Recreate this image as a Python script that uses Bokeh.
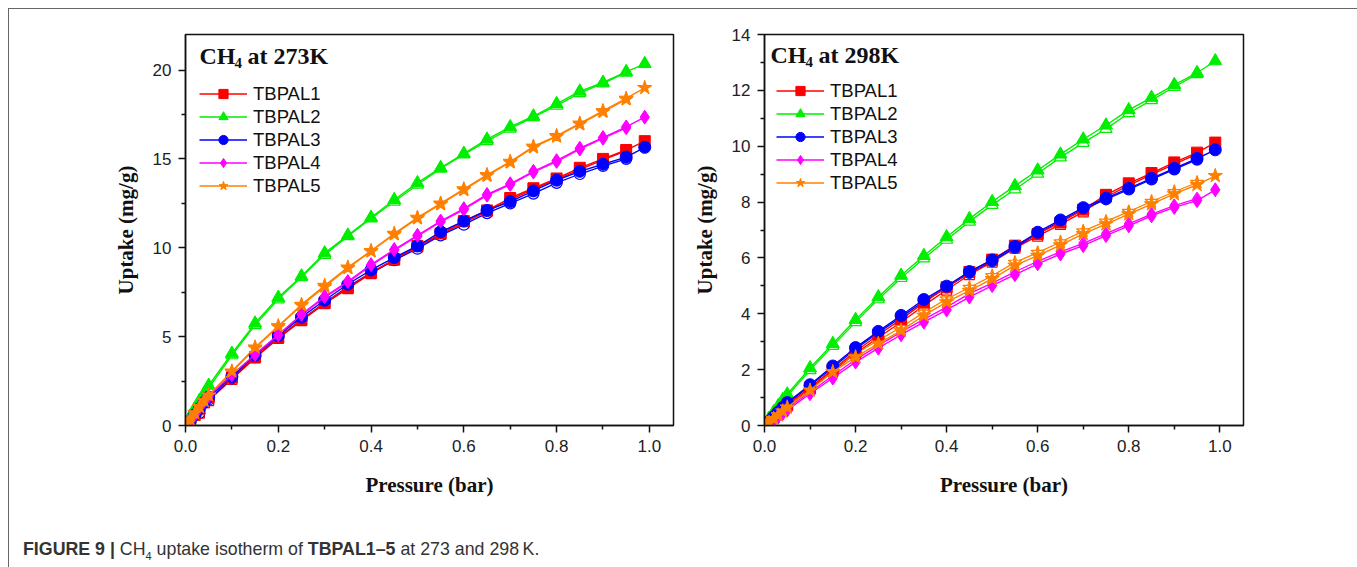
from bokeh.plotting import figure
from bokeh.models import Range1d, Legend, LegendItem, Label, Div, FixedTicker, NumeralTickFormatter
from bokeh.layouts import row, column
from bokeh.embed import file_html
from bokeh.resources import INLINE

# ---------------- data ----------------
pressure = [0.0, 0.005, 0.01, 0.02, 0.03, 0.04, 0.05,
            0.10, 0.15, 0.20, 0.25, 0.30, 0.35, 0.40, 0.45, 0.50,
            0.55, 0.60, 0.65, 0.70, 0.75, 0.80, 0.85, 0.90, 0.95, 0.99]
des_pressure = [0.01, 0.03, 0.05,
                0.10, 0.15, 0.20, 0.25, 0.30, 0.35, 0.40, 0.45, 0.50,
                0.55, 0.60, 0.65, 0.70, 0.75, 0.80, 0.85, 0.90, 0.95]

names = ["TBPAL1", "TBPAL2", "TBPAL3", "TBPAL4", "TBPAL5"]

# 273 K adsorption (filled)
ads_273_TBPAL1 = [0, 0.1, 0.25, 0.6, 0.95, 1.3, 1.6, 2.7, 3.85, 4.95, 5.95, 6.9, 7.75, 8.6, 9.35, 10.1,
                  10.8, 11.5, 12.1, 12.8, 13.35, 13.9, 14.5, 15.0, 15.5, 16.0]
ads_273_TBPAL2 = [0, 0.25, 0.5, 0.95, 1.4, 1.8, 2.25, 4.05, 5.75, 7.2, 8.4, 9.7, 10.7, 11.7, 12.7, 13.65,
                  14.5, 15.3, 16.1, 16.8, 17.4, 18.1, 18.8, 19.3, 19.9, 20.35]
ads_273_TBPAL3 = [0, 0.1, 0.25, 0.6, 0.95, 1.3, 1.6, 2.75, 3.95, 5.05, 6.1, 7.05, 7.95, 8.75, 9.45, 10.1,
                  10.9, 11.5, 12.1, 12.6, 13.2, 13.8, 14.3, 14.7, 15.1, 15.65]
ads_273_TBPAL4 = [0, 0.1, 0.25, 0.6, 1.0, 1.35, 1.65, 2.85, 4.0, 5.1, 6.25, 7.25, 8.1, 9.05, 9.9, 10.7,
                  11.5, 12.2, 13.0, 13.6, 14.3, 14.9, 15.6, 16.2, 16.8, 17.35]
ads_273_TBPAL5 = [0, 0.15, 0.35, 0.7, 1.05, 1.4, 1.7, 3.05, 4.4, 5.6, 6.8, 7.87, 8.9, 9.83, 10.8, 11.7,
                  12.5, 13.3, 14.1, 14.85, 15.7, 16.3, 17.0, 17.7, 18.4, 19.0]

# 273 K desorption (open)
des_273_TBPAL1 = [0.0, 0.7, 1.4, 2.6, 3.8, 4.9, 5.9, 6.85, 7.7, 8.55, 9.3, 10.05, 10.75, 11.4, 12.05,
                  12.7, 13.3, 13.85, 14.4, 14.95, 15.45]
des_273_TBPAL2 = [0.3, 1.2, 2.1, 3.95, 5.65, 7.1, 8.35, 9.6, 10.65, 11.65, 12.6, 13.55, 14.45, 15.25,
                  16.0, 16.7, 17.35, 18.0, 18.7, 19.25, 19.85]
des_273_TBPAL3 = [0.0, 0.7, 1.45, 2.65, 3.85, 4.95, 5.95, 6.9, 7.8, 8.6, 9.3, 9.95, 10.7, 11.3, 11.95,
                  12.5, 13.05, 13.65, 14.15, 14.6, 15.0]
des_273_TBPAL4 = [0.0, 0.75, 1.5, 2.8, 3.95, 5.05, 6.2, 7.2, 8.05, 9.0, 9.85, 10.65, 11.45, 12.15,
                  12.95, 13.55, 14.25, 14.85, 15.55, 16.15, 16.75]
des_273_TBPAL5 = [0.1, 0.9, 1.65, 3.0, 4.35, 5.55, 6.75, 7.8, 8.85, 9.8, 10.75, 11.65, 12.45, 13.25,
                  14.05, 14.8, 15.65, 16.25, 16.95, 17.65, 18.35]

# 298 K adsorption (filled)
ads_298_TBPAL1 = [0, 0.05, 0.12, 0.28, 0.43, 0.6, 0.75, 1.35, 2.0, 2.65, 3.25, 3.8, 4.4, 4.95, 5.5,
                  5.94, 6.44, 6.86, 7.27, 7.73, 8.26, 8.67, 9.04, 9.42, 9.77, 10.13]
ads_298_TBPAL2 = [0, 0.12, 0.25, 0.48, 0.7, 0.92, 1.12, 2.06, 2.93, 3.79, 4.6, 5.37, 6.08, 6.75, 7.4,
                  8.01, 8.58, 9.14, 9.71, 10.25, 10.75, 11.3, 11.74, 12.2, 12.63, 13.05]
ads_298_TBPAL3 = [0, 0.06, 0.14, 0.31, 0.48, 0.65, 0.82, 1.46, 2.13, 2.79, 3.37, 3.94, 4.51, 4.99, 5.51,
                  5.93, 6.41, 6.92, 7.36, 7.8, 8.14, 8.49, 8.85, 9.21, 9.56, 9.87]
ads_298_TBPAL4 = [0, 0.04, 0.09, 0.2, 0.32, 0.43, 0.55, 1.14, 1.7, 2.27, 2.77, 3.25, 3.7, 4.14, 4.6,
                  5.01, 5.4, 5.79, 6.14, 6.44, 6.8, 7.15, 7.51, 7.81, 8.05, 8.44]
ads_298_TBPAL5 = [0, 0.05, 0.1, 0.24, 0.37, 0.51, 0.65, 1.26, 1.92, 2.45, 2.93, 3.4, 3.94, 4.42, 4.83,
                  5.25, 5.73, 6.08, 6.46, 6.86, 7.21, 7.57, 7.93, 8.29, 8.62, 8.94]

# 298 K desorption (open)
des_298_TBPAL1 = [0.05, 0.4, 0.7, 1.3, 1.94, 2.58, 3.15, 3.7, 4.3, 4.85, 5.4, 5.85, 6.35, 6.78, 7.2,
                  7.65, 8.18, 8.6, 8.98, 9.36, 9.72]
des_298_TBPAL2 = [0.15, 0.6, 1.05, 1.98, 2.85, 3.7, 4.52, 5.28, 5.98, 6.65, 7.3, 7.9, 8.45, 9.02, 9.6,
                  10.12, 10.62, 11.18, 11.65, 12.12, 12.58]
des_298_TBPAL3 = [0.06, 0.45, 0.78, 1.42, 2.08, 2.74, 3.32, 3.88, 4.45, 4.94, 5.46, 5.88, 6.36, 6.87,
                  7.31, 7.75, 8.1, 8.45, 8.81, 9.17, 9.52]
des_298_TBPAL4 = [0.05, 0.35, 0.62, 1.2, 1.78, 2.36, 2.86, 3.35, 3.8, 4.24, 4.72, 5.1, 5.5, 5.88, 6.22,
                  6.52, 6.87, 7.22, 7.57, 7.87, 8.12]
des_298_TBPAL5 = [0.1, 0.45, 0.72, 1.35, 2.02, 2.56, 3.05, 3.52, 4.05, 4.53, 4.94, 5.36, 5.84, 6.19,
                  6.57, 6.96, 7.31, 7.66, 8.02, 8.37, 8.7]

x_ticks = [0.0, 0.2, 0.4, 0.6, 0.8, 1.0]
x_minor = [0.1, 0.3, 0.5, 0.7, 0.9]
y_ticks_273 = [0, 5, 10, 15, 20]
y_minor_273 = [2.5, 7.5, 12.5, 17.5]
y_ticks_298 = [0, 2, 4, 6, 8, 10, 12, 14]
y_minor_298 = [1, 3, 5, 7, 9, 11, 13]

# ---------------- styling ----------------
colors = ["#ff0000", "#00ee00", "#0000ff", "#ff00ff", "#ff8000"]
markers = ["square", "triangle", "circle", "diamond", "star"]
msizes = [11, 13, 12, 14, 15]
SERIF = "Liberation Serif"
SANS = "Liberation Sans"


def make_panel(ads, des, ymax, yticks, yminor, temp, width, mb_left, mb_right, legend_vx, legend_vy,
               title_x, title_y):
    p = figure(width=width, height=511, output_backend="svg", toolbar_location=None,
               x_range=Range1d(0, 1.052), y_range=Range1d(0, ymax),
               min_border_left=mb_left, min_border_right=mb_right,
               min_border_top=25, min_border_bottom=95)
    p.xgrid.visible = False
    p.ygrid.visible = False
    p.outline_line_color = "#111111"
    p.outline_line_width = 1.5
    p.outline_line_alpha = 1
    p.background_fill_color = "white"
    p.border_fill_color = "white"

    p.xaxis.ticker = FixedTicker(ticks=x_ticks, minor_ticks=x_minor)
    p.yaxis.ticker = FixedTicker(ticks=yticks, minor_ticks=yminor)
    p.xaxis.formatter = NumeralTickFormatter(format="0.0")
    p.xaxis.axis_label = "Pressure (bar)"
    p.yaxis.axis_label = "Uptake (mg/g)"
    for ax in (p.xaxis[0], p.yaxis[0]):
        ax.axis_label_text_font = SERIF
        ax.axis_label_text_font_style = "bold"
        ax.axis_label_text_font_size = "21px"
        ax.axis_label_text_color = "#111111"
        ax.major_label_text_font = SANS
        ax.major_label_text_font_size = "17px"
        ax.major_label_text_color = "#222222"
        ax.axis_line_color = "#111111"
        ax.axis_line_width = 1.5
        ax.major_tick_line_color = "#111111"
        ax.minor_tick_line_color = "#111111"
        ax.major_tick_line_width = 1.5
        ax.minor_tick_line_width = 1.5
        ax.major_tick_out = 7
        ax.major_tick_in = 0
        ax.minor_tick_out = 4
        ax.minor_tick_in = 0
        ax.major_label_standoff = 7
    p.xaxis[0].axis_label_standoff = 18
    p.yaxis[0].axis_label_standoff = 12
    p.yaxis[0].major_label_orientation = "horizontal"

    items = []
    for i, name in enumerate(names):
        c = colors[i]
        # desorption branch (open symbols)
        p.line(des_pressure, des[i], line_color=c, line_width=1.3)
        p.scatter(des_pressure, des[i], marker=markers[i], size=msizes[i] - 1,
                  line_color=c, fill_color="white", line_width=1.2)
    for i, name in enumerate(names):
        c = colors[i]
        lr = p.line(pressure, ads[i], line_color=c, line_width=1.4)
        sr = p.scatter(pressure, ads[i], marker=markers[i], size=msizes[i],
                       line_color=c, fill_color=c)
        items.append(LegendItem(label=name, renderers=[lr, sr]))

    leg = Legend(items=items, location=(legend_vx, legend_vy), padding=0, margin=0,
                 spacing=0, glyph_width=48, glyph_height=23, label_height=23,
                 label_standoff=6, label_text_font=SANS, label_text_font_size="18.5px",
                 label_text_color="#111111", border_line_color=None,
                 background_fill_alpha=0)
    p.add_layout(leg)

    p.add_layout(Label(x=title_x, y=title_y, text="CH", text_font=SERIF, text_font_style="bold",
                       text_font_size="24px", text_color="#111111", text_baseline="alphabetic"))
    p.add_layout(Label(x=title_x, y=title_y, text="4", x_offset=35, y_offset=-7, text_font=SERIF,
                       text_font_style="bold", text_font_size="15px", text_color="#111111",
                       text_baseline="alphabetic"))
    p.add_layout(Label(x=title_x, y=title_y, text="at " + temp, x_offset=48, text_font=SERIF,
                       text_font_style="bold", text_font_size="24px", text_color="#111111",
                       text_baseline="alphabetic"))
    return p


ads273 = [ads_273_TBPAL1, ads_273_TBPAL2, ads_273_TBPAL3, ads_273_TBPAL4, ads_273_TBPAL5]
des273 = [des_273_TBPAL1, des_273_TBPAL2, des_273_TBPAL3, des_273_TBPAL4, des_273_TBPAL5]
ads298 = [ads_298_TBPAL1, ads_298_TBPAL2, ads_298_TBPAL3, ads_298_TBPAL4, ads_298_TBPAL5]
des298 = [des_298_TBPAL1, des_298_TBPAL2, des_298_TBPAL3, des_298_TBPAL4, des_298_TBPAL5]

p1 = make_panel(ads273, des273, 22, y_ticks_273, y_minor_273, "273K", 680, 176, 16, 14, 228,
                0.03, 20.78)
p2 = make_panel(ads298, des298, 14, y_ticks_298, y_minor_298, "298K", 667, 70, 113, 12, 231,
                0.013, 13.25)

caption = Div(
    text=('<div style="font-family:\'Liberation Sans\',Arial,sans-serif;font-size:17.8px;'
          'color:#333;padding-left:9px;padding-top:12px;white-space:nowrap;">'
          '<b>FIGURE 9 |</b> CH<sub style="font-size:11px">4</sub> uptake isotherm of '
          '<b>TBPAL1&#8211;5</b> at 273 and 298&#8201;K.</div>'),
    width=1347, height=38)

layout = column(row(p1, p2), caption, margin=(8, 0, 0, 8),
                styles={"border-top": "1.5px solid #666", "border-left": "1.5px solid #666",
                        "border-right": "1.5px solid #666"})

open("out.html", "w").write(file_html(layout, INLINE))
